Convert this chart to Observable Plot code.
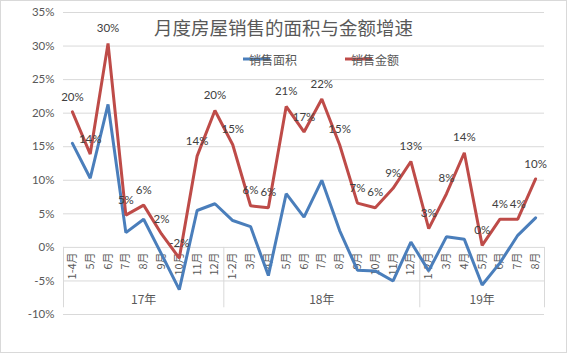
<!DOCTYPE html>
<html><head><meta charset="utf-8">
<script src="https://cdn.jsdelivr.net/npm/d3@7"></script>
<script src="https://cdn.jsdelivr.net/npm/@observablehq/plot@0.6"></script>
<style>
html,body{margin:0;padding:0;background:#fff;}
#chart{width:568px;height:354px;}
</style></head><body><div id="chart"></div>
<script>
const title = "月度房屋销售的面积与金额增速";
const seriesNames = ["销售面积", "销售金额"];
const seriesColors = ["#4a7ebb", "#be4b48"];
const years = ["17年", "18年", "19年"];
const months17 = ["1-4月","5月","6月","7月","8月","9月","10月","11月","12月"];
const months18 = ["1-2月","3月","4月","5月","6月","7月","8月","9月","10月","11月","12月"];
const months19 = ["1-2月","3月","4月","5月","6月","7月","8月"];
// 销售面积 growth (%)
const areaGrowth = [15.5, 10.3, 21.3, 2.2, 4.2, -1.0, -6.3, 5.5, 6.5,
                    4.0, 3.1, -4.2, 8.0, 4.5, 10.0, 2.5, -3.4, -3.5, -5.0, 0.8,
                    -3.5, 1.6, 1.2, -5.6, -2.3, 1.8, 4.4];
// 销售金额 growth (%)
const amountGrowth = [20.2, 13.9, 30.4, 4.8, 6.3, 2.0, -1.6, 13.6, 20.4,
                      15.3, 6.2, 5.9, 21.0, 17.2, 22.1, 15.3, 6.6, 5.9, 8.8, 12.8,
                      2.8, 8.0, 14.1, 0.3, 4.2, 4.2, 10.2];
const yTicks = [-10, -5, 0, 5, 10, 15, 20, 25, 30, 35];

const groups = [months17, months18, months19];
const cats = groups.flatMap((ms, g) => ms.map(m => ({year: years[g], month: m})));
cats.forEach((c, i) => c.i = i);
const rows = cats.map((c, i) => ({...c, area: areaGrowth[i], amount: amountGrowth[i]}));

const bounds = [-0.5];
let acc = -0.5;
groups.forEach(ms => { acc += ms.length; bounds.push(acc); });
const yearCenters = years.map((y, g) => ({year: y, x: (bounds[g] + bounds[g + 1]) / 2}));

const latin = "Lato, 'Noto Sans CJK SC', sans-serif";
const cjk = "'Noto Sans CJK SC', sans-serif";

const plot = Plot.plot({
  width: 568, height: 354,
  marginLeft: 63, marginRight: 24, marginTop: 12, marginBottom: 40,
  style: {fontFamily: latin, fontSize: "11.5px", color: "#595959", background: "#fff", overflow: "visible"},
  x: {domain: [-0.5, cats.length - 0.5], axis: null},
  y: {domain: [-10, 35], ticks: yTicks, tickFormat: d => d + "%", tickSize: 0, tickPadding: 9, label: null},
  marks: [
    Plot.ruleY(yTicks, {stroke: "#d9d9d9", strokeWidth: 1}),
    Plot.ruleX(bounds, {y1: 0, y2: -9, stroke: "#d9d9d9"}),
    Plot.text(cats, {x: "i", y: 0, text: "month", rotate: -90, textAnchor: "end", dy: 5,
      fontFamily: cjk, fontSize: 11, fill: "#595959"}),
    Plot.text(yearCenters, {x: "x", y: 0, text: "year", dy: 53, fontFamily: cjk, fontSize: 12, fill: "#595959"}),
    Plot.lineY(rows, {x: "i", y: "area", stroke: seriesColors[0], strokeWidth: 3, strokeLinejoin: "miter"}),
    Plot.lineY(rows, {x: "i", y: "amount", stroke: seriesColors[1], strokeWidth: 3, strokeLinejoin: "miter"}),
    Plot.text(rows, {x: "i", y: "amount", text: d => Math.round(d.amount) + "%", dy: -15,
      fill: "#404040", fontSize: 11.5})
  ]
});

const svg = d3.select(plot);
svg.insert("rect", ":first-child")
  .attr("x", 0.5).attr("y", 0.5).attr("width", 566).attr("height", 352)
  .attr("fill", "#fff").attr("stroke", "#d9d9d9");
svg.append("text").text(title)
  .attr("x", 283.5).attr("y", 27).attr("text-anchor", "middle").attr("dominant-baseline", "central")
  .attr("font-family", cjk).attr("font-size", 18.5).attr("fill", "#595959");
const legendX = [243, 345];
seriesNames.forEach((name, k) => {
  const g = svg.append("g").attr("transform", `translate(${legendX[k]},59)`);
  g.append("line").attr("x1", 0).attr("x2", 27).attr("y1", 0).attr("y2", 0)
    .attr("stroke", seriesColors[k]).attr("stroke-width", 3);
  g.append("text").text(name).attr("x", 30).attr("y", 0).attr("dominant-baseline", "central")
    .attr("font-family", cjk).attr("font-size", 12).attr("fill", "#595959");
});

document.getElementById("chart").appendChild(plot);
</script></body></html>
